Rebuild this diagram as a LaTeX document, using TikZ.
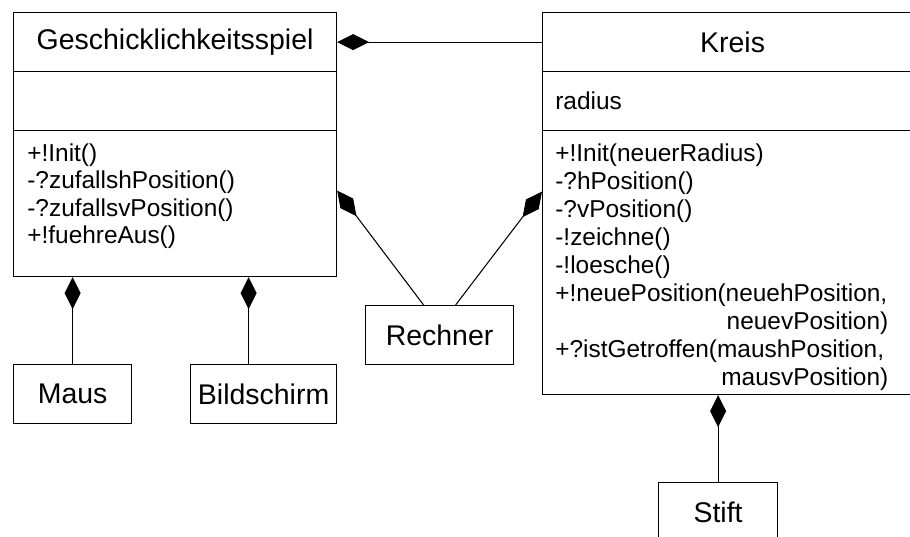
\documentclass[tikz,border=0pt]{standalone}
\usepackage{fontspec}
\setmainfont{Liberation Sans}
\usetikzlibrary{arrows.meta,positioning}

\newcommand{\titelschrift}{\fontsize{16.2}{19}\selectfont}
\newcommand{\eintragschrift}{\fontsize{13.9}{15.7}\selectfont}
\newcommand{\langschrift}{\fontsize{13.9}{16.0}\selectfont}

\tikzset{>=latex,
         fach/.style={draw, line width=0.7pt, anchor=north west, inner sep=0pt, font=\titelschrift},
         teil/.style={fach, minimum height=1.18cm},
      eintrag/.style={anchor=north west, inner sep=0pt, align=left, font=\eintragschrift},
       kompos/.style={{Diamond[length=0.64cm, width=0.32cm]}-, line width=0.6pt}}

\begin{document}
\begin{tikzpicture}[x=0.02cm, y=-0.02cm]
            \useasboundingbox (0,0) rectangle (910,537);
            \clip (0,0) rectangle (910,537);

            % Klasse Geschicklichkeitsspiel
            \node[fach, minimum width=6.46cm, minimum height=1.18cm] at ( 13,  12) (spielname) {Geschicklichkeitsspiel};
            \node[fach, minimum width=6.46cm, minimum height=1.18cm] at ( 13,  71) (spielattr) {};
            \node[fach, minimum width=6.46cm, minimum height=2.92cm] at ( 13, 130) (spielops)  {};
            \node[eintrag] at ( 27, 143) (spielmeth)
                {+!Init()\\-?zufallshPosition()\\-?zufallsvPosition()\\+!fuehreAus()};

            % Klasse Kreis
            \node[fach, minimum width=7.6cm, minimum height=1.18cm] at (542,  12) (kreisname) {Kreis};
            \node[fach, minimum width=7.6cm, minimum height=1.18cm] at (542,  71) (kreisattr) {};
            \node[fach, minimum width=7.6cm, minimum height=5.28cm] at (542, 130) (kreisops)  {};
            \node[eintrag] at (555,  91) (radius) {radius};
            \node[eintrag, font=\langschrift, text width=6.66cm] at (555, 143) (kreismeth)
                {+!Init(neuerRadius)\\-?hPosition()\\-?vPosition()\\-!zeichne()\\-!loesche()\\
                 +!neuePosition(neuehPosition,\\\hspace*{\fill}neuevPosition)\\
                 +?istGetroffen(maushPosition,\\\hspace*{\fill}mausvPosition)};

            % Teile
            \node[teil, minimum width=2.36cm] at ( 13, 364) (maus)    {Maus};
            \node[teil, minimum width=2.92cm] at (190, 364) (bild)    {Bildschirm};
            \node[teil, minimum width=2.96cm] at (365, 305) (rechner) {Rechner};
            \node[teil, minimum width=2.38cm] at (658, 482) (stift)   {Stift};

            \coordinate (bildan)  at ([xshift=-0.3cm]bild.north);
            \coordinate (rlinks)  at ([xshift=-0.32cm]rechner.north);
            \coordinate (rrechts) at ([xshift=0.32cm]rechner.north);

            \draw[kompos] (spielname.east) -- (kreisname.west);
            \draw[kompos] (spielops.south -| maus.north) -- (maus.north);
            \draw[kompos] (spielops.south -| bildan) -- (bildan);
            \draw[kompos] (kreisops.south -| stift.north) -- (stift.north);
            \draw[kompos] ([yshift=0.26cm]spielops.east) -- (rlinks);
            \draw[kompos] ([yshift=1.42cm]kreisops.west) -- (rrechts);
        \end{tikzpicture}
\end{document}
